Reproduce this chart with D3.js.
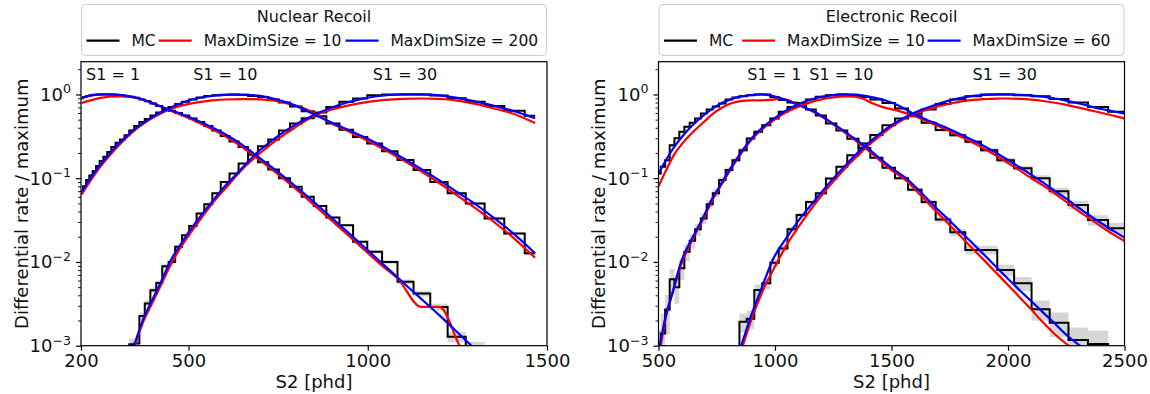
<!DOCTYPE html>
<html>
<head>
<meta charset="utf-8">
<script src="https://cdn.jsdelivr.net/npm/d3@7"></script>
<style>
  body { margin: 0; background: #fff; }
  svg { display: block; font-family: "DejaVu Sans", sans-serif; }
</style>
</head>
<body>
<svg id="chart" width="1150" height="394"></svg>
<script>
// ---------- data ----------
const sliceLabels = ['S1 = 1', 'S1 = 10', 'S1 = 30'];
const legendColors = ['black', 'red', 'blue'];
const yTicks = [1e-3, 1e-2, 1e-1, 1];
const yTickExp = ['\u22123', '\u22122', '\u22121', '0'];

// Nuclear recoil: S2 bin centres and MC histograms (normalised)
const nrTicks = [200, 500, 1000, 1500];
const nrS2 = [201.7, 210.1, 218.7, 227.7, 237.1, 246.9, 257.1, 267.8, 278.9, 290.4,
  302.4, 314.9, 327.9, 341.4, 355.5, 370.2, 385.5, 401.5, 418.1, 435.3,
  453.3, 472.1, 491.6, 511.9, 533.0, 555.0, 577.9, 601.8, 626.7, 652.6,
  679.6, 707.7, 736.9, 767.4, 799.1, 832.1, 866.5, 902.3, 939.6, 978.4,
  1018.9, 1061.0, 1104.8, 1150.5, 1198.1, 1247.6, 1299.1, 1352.8, 1408.7, 1466.9];
const nrMC1 = [0.90, 0.93, 0.96, 0.98, 0.99, 1.0, 1.0, 1.0, 0.995, 0.99,
  0.98, 0.97, 0.96, 0.94, 0.91, 0.87, 0.83, 0.78, 0.73, 0.68,
  0.64, 0.60, 0.56, 0.515, 0.47, 0.42, 0.37, 0.32, 0.275, 0.235,
  0.195, 0.155, 0.127, 0.10, 0.079, 0.06, 0.0465, 0.034, 0.0275, 0.0174,
  0.0132, 0.010, 0.0058, 0.0042, 0.0029, 0.00128, 0.00095, 0.0004, 0.0004, 0.0004];
const nrMC10 = [0.07, 0.08, 0.095, 0.108, 0.122, 0.14, 0.16, 0.18, 0.205, 0.235,
  0.265, 0.29, 0.325, 0.37, 0.42, 0.47, 0.51, 0.56, 0.61, 0.66,
  0.71, 0.77, 0.82, 0.87, 0.92, 0.96, 0.98, 0.99, 1.0, 0.99,
  0.96, 0.93, 0.87, 0.80, 0.72, 0.63, 0.55, 0.45, 0.38, 0.31,
  0.26, 0.21, 0.165, 0.125, 0.09, 0.066, 0.050, 0.033, 0.0218, 0.0127];
const nrMC30 = [null, null, null, null, null, null, null, null, null, null,
  null, null, 0.0003, 0.00104, 0.00106, 0.00226, 0.0032, 0.0046, 0.0056, 0.0089,
  0.010, 0.0152, 0.0209, 0.0268, 0.038, 0.049, 0.066, 0.09, 0.114, 0.15,
  0.19, 0.24, 0.29, 0.37, 0.45, 0.52, 0.61, 0.71, 0.817, 0.896,
  0.98, 1.0, 1.0, 1.0, 0.97, 0.90, 0.82, 0.73, 0.64, 0.555];
const nrCounts = [40000, 40000, 40000];

// Nuclear recoil model curves [S2, rate]
const nrRed1 = [[201.7,0.79],[240,0.88],[280,0.94],[310,0.945],[340,0.925],[370,0.875],[400,0.79],[440,0.665],[480,0.57],[520,0.48],[560,0.395],[600,0.32],[650,0.235],[700,0.163],[750,0.111],[800,0.074],[850,0.048],[900,0.031],[950,0.02],[1000,0.0128],[1050,0.0083],[1084,0.0063],[1149,0.0029],[1200,0.0029],[1256,0.001],[1275,0.0007]];
const nrBlue1 = [[201.7,0.91],[230,0.975],[260,1.0],[290,1.0],[320,0.975],[350,0.925],[380,0.845],[410,0.755],[440,0.67],[480,0.585],[520,0.5],[560,0.415],[600,0.34],[650,0.25],[700,0.172],[750,0.118],[800,0.079],[850,0.052],[900,0.0335],[950,0.0215],[1000,0.0138],[1050,0.0088],[1100,0.0056],[1150,0.0036],[1200,0.0023],[1250,0.00145],[1300,0.0009]];
const nrRed10 = [[201.7,0.064],[250,0.13],[300,0.232],[350,0.375],[400,0.525],[440,0.645],[480,0.735],[520,0.8],[560,0.845],[600,0.87],[650,0.88],[700,0.875],[740,0.84],[780,0.77],[820,0.69],[855,0.585],[900,0.45],[950,0.355],[1000,0.28],[1050,0.215],[1100,0.162],[1150,0.12],[1200,0.087],[1250,0.062],[1300,0.044],[1350,0.0305],[1400,0.0205],[1466.9,0.0112]];
const nrBlue10 = [[201.7,0.068],[225,0.098],[250,0.138],[275,0.185],[300,0.245],[325,0.31],[350,0.385],[375,0.46],[400,0.54],[440,0.665],[470,0.76],[500,0.845],[540,0.925],[580,0.975],[620,0.995],[660,0.99],[700,0.96],[750,0.86],[800,0.73],[850,0.58],[900,0.46],[950,0.37],[1000,0.295],[1050,0.228],[1100,0.172],[1150,0.128],[1200,0.094],[1250,0.068],[1300,0.049],[1350,0.034],[1400,0.023],[1466.9,0.0127]];
const nrRed30 = [[350,0.001],[375,0.002],[400,0.0033],[425,0.0055],[450,0.0092],[475,0.0142],[500,0.0205],[535,0.033],[574,0.0548],[600,0.073],[650,0.128],[700,0.2],[750,0.295],[800,0.41],[855,0.57],[900,0.66],[950,0.745],[1000,0.815],[1050,0.86],[1100,0.885],[1150,0.895],[1200,0.885],[1250,0.845],[1300,0.77],[1350,0.685],[1400,0.6],[1466.9,0.455]];
const nrBlue30 = [[340,0.0008],[348,0.001],[370,0.0019],[400,0.0036],[425,0.006],[448,0.01],[475,0.0155],[500,0.0225],[535,0.036],[569,0.0548],[600,0.079],[630,0.108],[660,0.148],[690,0.2],[720,0.255],[750,0.32],[780,0.39],[810,0.465],[840,0.54],[870,0.62],[900,0.70],[940,0.795],[980,0.88],[1020,0.945],[1060,0.985],[1100,1.0],[1150,1.0],[1200,0.975],[1250,0.91],[1300,0.825],[1350,0.735],[1400,0.645],[1466.9,0.52]];

// Electronic recoil: S2 bin centres and MC histograms
const erTicks = [500, 1000, 1500, 2000, 2500];
const erS2 = [500.4, 518.9, 538.1, 558.0, 578.6, 600.0, 622.2, 645.3, 669.2, 693.9,
  719.6, 746.2, 773.8, 802.4, 832.0, 862.8, 894.7, 927.8, 962.1, 997.6,
  1034.5, 1072.8, 1112.5, 1153.7, 1196.3, 1240.6, 1286.5, 1334.0, 1383.4, 1434.6,
  1487.6, 1542.6, 1599.7, 1658.9, 1720.3, 1783.9, 1849.9, 1918.4, 1989.4, 2063.0,
  2139.3, 2218.4, 2300.5, 2385.7, 2473.9, 2565.4];
const erMC1 = [0.114, 0.137, 0.164, 0.248, 0.30, 0.358, 0.411, 0.46, 0.517, 0.593,
  0.662, 0.72, 0.78, 0.87, 0.92, 0.95, 0.975, 1.0, 1.0, 0.93,
  0.86, 0.80, 0.73, 0.66, 0.56, 0.45, 0.37, 0.295, 0.23, 0.175,
  0.133, 0.10, 0.073, 0.052, 0.0322, 0.0226, 0.0139, 0.0139, 0.008, 0.00555,
  0.00272, 0.00188, 0.00117, 0.00105, 0.0003, 0.0003];
const erMC10 = [0.0008, 0.0014, 0.0027, 0.0062, 0.005, 0.0084, 0.0132, 0.0179, 0.0245, 0.0331,
  0.049, 0.066, 0.095, 0.125, 0.164, 0.216, 0.298, 0.358, 0.43, 0.517,
  0.62, 0.71, 0.79, 0.87, 0.94, 0.98, 1.0, 0.99, 0.93, 0.87,
  0.79, 0.68, 0.55, 0.458, 0.375, 0.326, 0.272, 0.216, 0.164, 0.131,
  0.10, 0.07, 0.048, 0.0316, 0.0252, 0.019];
const erMC30 = [null, null, null, null, null, null, null, null, null, null,
  null, null, null, null, 0.0003, 0.00193, 0.0021, 0.00462, 0.00555, 0.0098,
  0.0145, 0.0245, 0.0363, 0.052, 0.066, 0.099, 0.137, 0.188, 0.26, 0.327,
  0.43, 0.517, 0.59, 0.66, 0.77, 0.87, 0.954, 1.0, 1.0, 0.98,
  0.95, 0.88, 0.80, 0.71, 0.62, 0.55];
const erCounts = [5000, 1500, 8000];

// Electronic recoil model curves [S2, rate]
const erRed1 = [[500.4,0.08],[530,0.12],[569,0.195],[600,0.255],[624,0.305],[650,0.36],[684,0.44],[710,0.515],[741,0.61],[770,0.69],[799,0.76],[830,0.81],[860,0.84],[900,0.85],[950,0.852],[990,0.865],[1020,0.895],[1045,0.875],[1070,0.825],[1100,0.755],[1150,0.65],[1200,0.545],[1250,0.44],[1300,0.35],[1350,0.275],[1400,0.215],[1450,0.163],[1500,0.125],[1566,0.092],[1600,0.074],[1650,0.053],[1700,0.038],[1750,0.0275],[1800,0.0198],[1850,0.0143],[1900,0.0103],[1950,0.0074],[2000,0.0053],[2050,0.0038],[2100,0.0027],[2150,0.0019],[2200,0.00138],[2271,0.00095]];
const erBlue1 = [[500.4,0.115],[530,0.16],[560,0.22],[600,0.31],[650,0.44],[700,0.58],[750,0.73],[800,0.855],[850,0.94],[900,0.985],[940,1.0],[980,0.975],[1020,0.91],[1060,0.83],[1100,0.75],[1150,0.655],[1200,0.555],[1250,0.445],[1300,0.36],[1350,0.285],[1400,0.225],[1450,0.172],[1500,0.133],[1566,0.098],[1600,0.08],[1650,0.058],[1700,0.042],[1750,0.031],[1800,0.0225],[1850,0.0165],[1900,0.012],[1950,0.0087],[2000,0.0063],[2050,0.0046],[2100,0.0034],[2150,0.0025],[2200,0.00185],[2250,0.00135],[2320,0.00095]];
const erRed10 = [[510,0.001],[530,0.0021],[560,0.0042],[600,0.0098],[650,0.0195],[700,0.036],[727,0.052],[760,0.075],[800,0.115],[850,0.19],[900,0.29],[950,0.395],[1000,0.505],[1050,0.615],[1100,0.715],[1150,0.805],[1200,0.875],[1250,0.92],[1300,0.945],[1340,0.94],[1373,0.9],[1420,0.78],[1460,0.71],[1517,0.65],[1588,0.57],[1650,0.48],[1700,0.42],[1750,0.365],[1800,0.31],[1850,0.265],[1900,0.223],[1950,0.185],[2000,0.152],[2050,0.124],[2100,0.1],[2150,0.082],[2200,0.066],[2250,0.052],[2300,0.041],[2350,0.033],[2400,0.0265],[2450,0.0215],[2500,0.0178],[2565,0.014]];
const erBlue10 = [[505,0.001],[530,0.0022],[560,0.0043],[597,0.01],[650,0.0205],[700,0.038],[727,0.055],[760,0.078],[800,0.12],[850,0.195],[900,0.3],[950,0.41],[1000,0.525],[1050,0.65],[1100,0.765],[1150,0.865],[1200,0.935],[1250,0.98],[1300,1.0],[1350,0.99],[1400,0.95],[1450,0.885],[1500,0.8],[1550,0.69],[1588,0.6],[1650,0.5],[1700,0.44],[1750,0.385],[1800,0.33],[1850,0.283],[1900,0.24],[1950,0.2],[2000,0.165],[2050,0.135],[2100,0.11],[2150,0.089],[2200,0.071],[2250,0.057],[2300,0.045],[2350,0.036],[2400,0.029],[2450,0.0237],[2500,0.0195],[2565,0.0155]];
const erRed30 = [[862,0.001],[900,0.0021],[950,0.0047],[1000,0.0088],[1050,0.016],[1100,0.026],[1150,0.041],[1200,0.062],[1250,0.091],[1300,0.13],[1350,0.18],[1400,0.245],[1450,0.32],[1500,0.41],[1550,0.5],[1588,0.57],[1650,0.655],[1700,0.72],[1750,0.775],[1800,0.825],[1850,0.86],[1900,0.88],[1950,0.893],[2000,0.895],[2050,0.885],[2100,0.865],[2150,0.835],[2200,0.795],[2250,0.75],[2300,0.7],[2350,0.65],[2400,0.605],[2450,0.56],[2500,0.517],[2565,0.47]];
const erBlue30 = [[855,0.001],[900,0.0024],[950,0.0055],[986,0.01],[1050,0.0195],[1100,0.031],[1173,0.055],[1200,0.068],[1250,0.099],[1300,0.14],[1350,0.195],[1400,0.26],[1450,0.34],[1500,0.43],[1550,0.52],[1600,0.61],[1650,0.69],[1700,0.77],[1750,0.85],[1800,0.91],[1850,0.96],[1900,0.99],[1950,1.0],[2000,1.0],[2050,0.99],[2100,0.97],[2150,0.94],[2200,0.895],[2250,0.845],[2300,0.785],[2350,0.725],[2400,0.67],[2450,0.63],[2500,0.59],[2565,0.54]];

// ---------- layout ----------
const svg = d3.select('#chart');
const font = 'DejaVu Sans';
const plotTop = 61.7, plotBottom = 345.7, plotW = 466;
const yDomain = [1e-3, 2.46];

const panels = [
  { title: 'Nuclear Recoil', left: 81, domain: [200, 1500], ticks: nrTicks, s2: nrS2,
    mc: [nrMC1, nrMC10, nrMC30], counts: nrCounts,
    red: [nrRed1, nrRed10, nrRed30], blue: [nrBlue1, nrBlue10, nrBlue30],
    labels: ['MC', 'MaxDimSize = 10', 'MaxDimSize = 200'], cols: [5.5, 77.7, 264.5],
    notes: [214, 513, 1014] },
  { title: 'Electronic Recoil', left: 658.5, domain: [500, 2500], ticks: erTicks, s2: erS2,
    mc: [erMC1, erMC10, erMC30], counts: erCounts,
    red: [erRed1, erRed10, erRed30], blue: [erBlue1, erBlue10, erBlue30],
    labels: ['MC', 'MaxDimSize = 10', 'MaxDimSize = 60'], cols: [5.5, 83.6, 269.1],
    notes: [881, 1147, 1848] }
];

// minor ticks of the log axis
const yMinor = [];
[1e-3, 1e-2, 1e-1, 1].forEach(dec => d3.range(2, 10).forEach(m => {
  if (m * dec < yDomain[1]) yMinor.push(m * dec);
}));

panels.forEach((p, pi) => {
  const x = d3.scaleLinear().domain(p.domain).range([p.left, p.left + plotW]);
  const y = d3.scaleLog().domain(yDomain).range([plotBottom, plotTop]);

  svg.append('clipPath').attr('id', 'clip' + pi)
    .append('rect')
    .attr('x', p.left).attr('y', plotTop)
    .attr('width', plotW).attr('height', plotBottom - plotTop);
  const plot = svg.append('g').attr('clip-path', `url(#clip${pi})`);

  const hists = p.mc.map(vals => p.s2.map((s, i) => ({ s: s, v: vals[i] })));

  // grey MC uncertainty bands (sqrt(N) from the peak counts)
  hists.forEach((h, j) => {
    const n = p.counts[j];
    const band = d3.area()
      .defined(d => d.v != null)
      .x(d => x(d.s))
      .y0(d => y(Math.max(d.v - Math.sqrt(d.v / n), 1e-6)))
      .y1(d => y(d.v + Math.sqrt(d.v / n)))
      .curve(d3.curveStep);
    plot.append('path').attr('d', band(h)).attr('fill', '#d6d6d6');
  });

  // MC histograms
  const step = d3.line()
    .defined(d => d.v != null)
    .x(d => x(d.s)).y(d => y(d.v))
    .curve(d3.curveStep);
  hists.forEach(h => {
    plot.append('path').attr('d', step(h))
      .attr('fill', 'none').attr('stroke', 'black').attr('stroke-width', 2);
  });

  // model curves
  const smooth = d3.line().x(d => x(d[0])).y(d => y(d[1])).curve(d3.curveMonotoneX);
  p.red.forEach(c => plot.append('path').attr('d', smooth(c))
    .attr('fill', 'none').attr('stroke', 'red').attr('stroke-width', 2.2));
  p.blue.forEach(c => plot.append('path').attr('d', smooth(c))
    .attr('fill', 'none').attr('stroke', 'blue').attr('stroke-width', 2.2));

  // slice labels
  sliceLabels.forEach((t, j) => {
    svg.append('text').attr('x', x(p.notes[j])).attr('y', 80)
      .attr('font-family', font).attr('font-size', 16).attr('fill', '#111').text(t);
  });

  // x axis
  const xa = svg.append('g').attr('transform', `translate(0,${plotBottom})`)
    .call(d3.axisBottom(x).tickValues(p.ticks).tickSize(5).tickSizeOuter(0)
      .tickPadding(3.5).tickFormat(d3.format('d')));
  xa.attr('font-family', font).attr('font-size', 18);
  xa.select('.domain').remove();
  xa.selectAll('line').attr('stroke', 'black').attr('stroke-width', 1.2);
  xa.selectAll('text').attr('fill', '#111');

  // y axis (major + minor ticks)
  const ya = svg.append('g').attr('transform', `translate(${p.left},0)`)
    .call(d3.axisLeft(y).tickValues(yTicks).tickSize(5).tickSizeOuter(0).tickFormat(''));
  ya.select('.domain').remove();
  ya.selectAll('line').attr('stroke', 'black').attr('stroke-width', 1.2);
  const ym = svg.append('g').attr('transform', `translate(${p.left},0)`)
    .call(d3.axisLeft(y).tickValues(yMinor).tickSize(3).tickSizeOuter(0).tickFormat(''));
  ym.select('.domain').remove();
  ym.selectAll('line').attr('stroke', 'black').attr('stroke-width', 0.9);

  yTicks.forEach((t, j) => {
    const lab = svg.append('text')
      .attr('x', p.left - 10).attr('y', y(t) + 6.5)
      .attr('text-anchor', 'end').attr('font-family', font)
      .attr('font-size', 18).attr('fill', '#111');
    lab.append('tspan').text('10');
    lab.append('tspan').attr('font-size', 12.6).attr('dy', -7.5).text(yTickExp[j]);
  });

  // spines
  svg.append('rect')
    .attr('x', p.left).attr('y', plotTop)
    .attr('width', plotW).attr('height', plotBottom - plotTop)
    .attr('fill', 'none').attr('stroke', 'black').attr('stroke-width', 1.2);

  // axis titles
  svg.append('text')
    .attr('x', p.left + plotW / 2).attr('y', 388)
    .attr('text-anchor', 'middle').attr('font-family', font)
    .attr('font-size', 18).attr('fill', '#111').text('S2 [phd]');
  svg.append('text')
    .attr('transform', `translate(${p.left - 53.5},${(plotTop + plotBottom) / 2}) rotate(-90)`)
    .attr('text-anchor', 'middle').attr('font-family', font)
    .attr('font-size', 18).attr('fill', '#111').text('Differential rate / maximum');

  // legend
  const lg = svg.append('g').attr('transform', `translate(${p.left},4)`)
    .attr('font-family', font).attr('font-size', 15.5).attr('fill', '#111');
  lg.append('rect').attr('x', 0.5).attr('y', 0.5)
    .attr('width', plotW - 1).attr('height', 51).attr('rx', 4)
    .attr('fill', 'white').attr('stroke', '#cccccc');
  lg.append('text').attr('x', plotW / 2).attr('y', 18)
    .attr('font-size', 16).attr('text-anchor', 'middle').text(p.title);
  legendColors.forEach((c, j) => {
    const cx = p.cols[j];
    lg.append('line').attr('x1', cx).attr('x2', cx + 33)
      .attr('y1', 36.7).attr('y2', 36.7)
      .attr('stroke', c).attr('stroke-width', 2.2);
    lg.append('text').attr('x', cx + 45).attr('y', 42.3).text(p.labels[j]);
  });
});
</script>
</body>
</html>
